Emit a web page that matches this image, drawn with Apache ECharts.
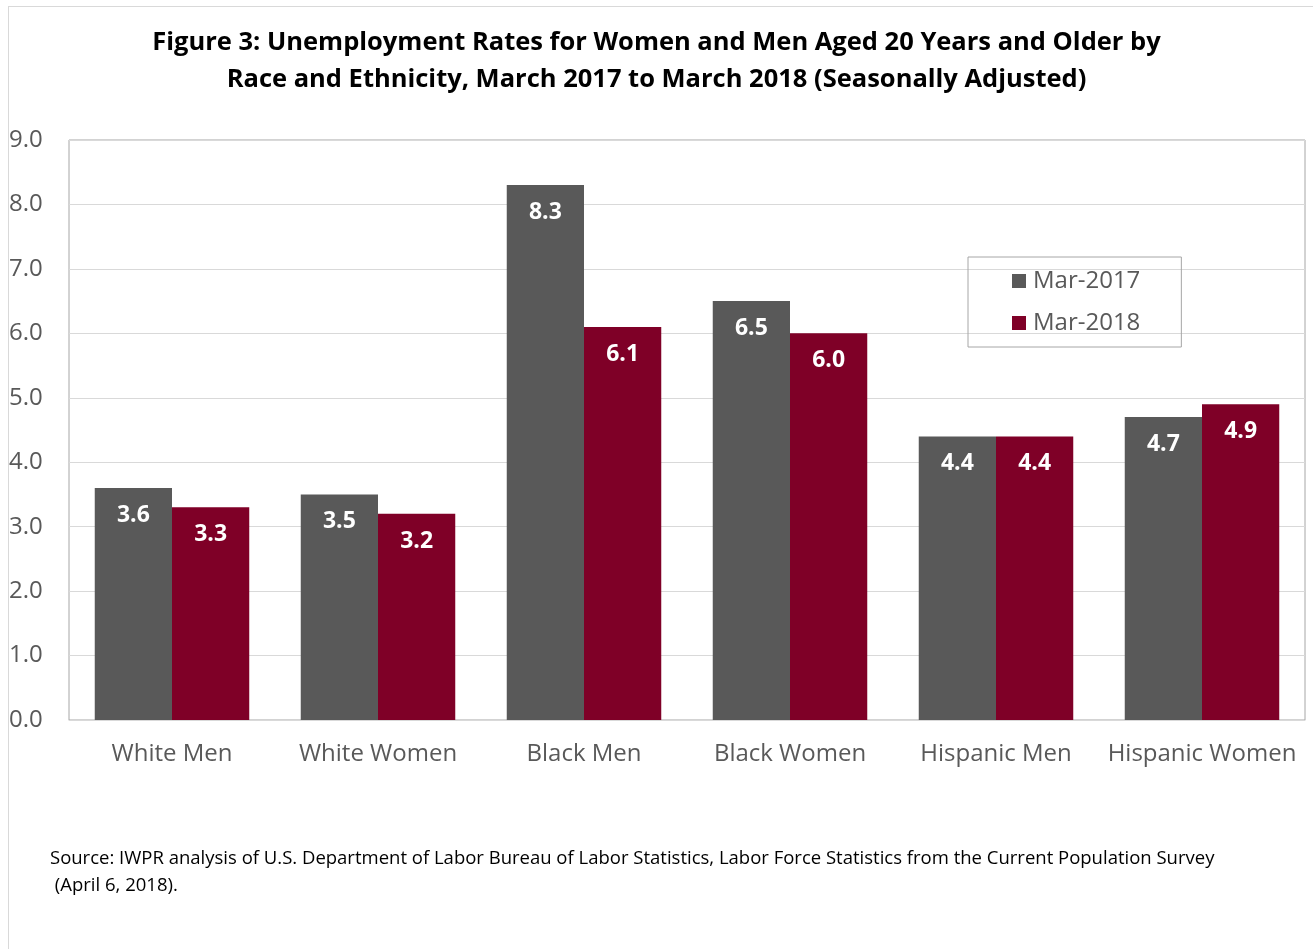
<!DOCTYPE html>
<html><head><meta charset="utf-8">
<script src="https://cdn.jsdelivr.net/npm/echarts@6/dist/echarts.min.js"></script>
<style>
html,body{margin:0;padding:0;background:#fff;}
#frame{position:absolute;left:8px;top:6px;width:1320px;height:960px;border:1px solid #d9d9d9;box-sizing:border-box;}
#c{position:absolute;left:0;top:0;width:1313px;height:949px;}
</style></head><body>
<div id="frame"></div>
<div id="c"></div>
<script>
const categories = ['White Men','White Women','Black Men','Black Women','Hispanic Men','Hispanic Women'];
const seriesNames = ['Mar-2017','Mar-2018'];
const mar2017 = [3.6, 3.5, 8.3, 6.5, 4.4, 4.7];
const mar2018 = [3.3, 3.2, 6.1, 6.0, 4.4, 4.9];
const titleLines = ['Figure 3: Unemployment Rates for Women and Men Aged 20 Years and Older by','Race and Ethnicity, March 2017 to March 2018 (Seasonally Adjusted)'];
const sourceLines = ['Source: IWPR analysis of U.S. Department of Labor Bureau of Labor Statistics, Labor Force Statistics from the Current Population Survey',' (April 6, 2018).'];

const FONT = '"Open Sans", "Noto Sans", sans-serif';
const chart = echarts.init(document.getElementById('c'), null, {renderer:'canvas'});
const labelCfg = {show:true, position:'insideTop', distance:16, color:'#fff', fontWeight:'bold', fontSize:23, fontFamily:FONT, formatter:p=>p.value.toFixed(1)};
chart.setOption({
  animation:false,
  title:{text:titleLines.join('\n'), left:'center', top:19, textStyle:{fontFamily:FONT, fontWeight:'bold', fontSize:25.5, color:'#000', lineHeight:37}},
  graphic:[{type:'text', left:50, top:845, style:{text:sourceLines.join('\n'), font:'18.5px "Open Sans", sans-serif', fill:'#000', lineHeight:27}}],
  legend:{orient:'vertical', left:968, top:257, data:seriesNames, icon:'rect', itemWidth:14, itemHeight:14, itemGap:18,
    padding:[12,41,12,44], borderColor:'#a6a6a6', borderWidth:1,
    textStyle:{fontFamily:FONT, fontSize:24, color:'#595959', padding:[0,0,0,2]}},
  grid:{left:69, right:8, top:140, bottom:229, show:true, borderColor:'#a6a6a6', borderWidth:1},
  xAxis:{type:'category', data:categories, axisTick:{show:false}, axisLine:{lineStyle:{color:'#d9d9d9'}},
    axisLabel:{interval:0, fontFamily:FONT, fontSize:24, color:'#595959', margin:22}},
  yAxis:{type:'value', min:0, max:9, interval:1, axisLine:{show:false}, axisTick:{show:false},
    splitLine:{lineStyle:{color:'#d9d9d9'}},
    axisLabel:{fontFamily:FONT, fontSize:24, color:'#595959', formatter:v=>v.toFixed(1), align:'left', margin:60, padding:[4,0,0,0]}},
  series:[
    {name:seriesNames[0], type:'bar', data:mar2017, itemStyle:{color:'#595959'}, barGap:'0%', barCategoryGap:'25%', label:labelCfg},
    {name:seriesNames[1], type:'bar', data:mar2018, itemStyle:{color:'#7f0027'}, label:labelCfg}
  ]
});
</script></body></html>
